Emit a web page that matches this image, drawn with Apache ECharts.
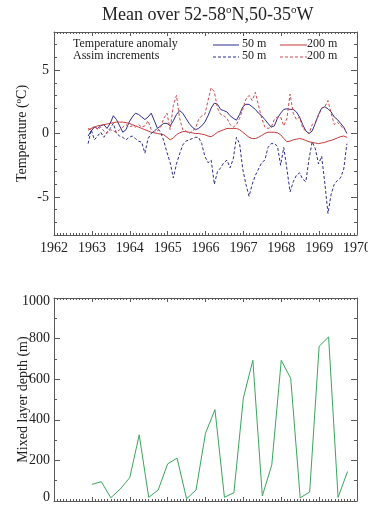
<!DOCTYPE html>
<html>
<head>
<meta charset="utf-8">
<script src="https://cdn.jsdelivr.net/npm/echarts@6/dist/echarts.min.js"></script>
<style>
  html, body { margin: 0; padding: 0; background: #fff; }
  #chart { width: 368px; height: 506px; }
</style>
</head>
<body>
<div id="chart"></div>
<script>
// monthly series start (decimal year), one value per month
var startYear = 1962.9;

// Temperature anomaly 50 m (solid blue)
var t50 = [-0.2, 0.2, 0.5, 0.4, 0.6, 0.7, 0.4, 0.8, 1.4, 1.1, 0.6, 0.1,
  0.3, 0.9, 1.3, 1.6, 1.5, 1.3, 1.1, 1.3, 1.6, 1.0, 0.4, 0.6,
  0.8, 0.8, 0.6, 1.0, 1.5, 1.8, 1.6, 1.2, 0.8, 0.5, 0.3, 0.4,
  0.6, 0.9, 1.4, 2.0, 2.4, 2.3, 1.9, 1.8, 1.7, 1.4, 1.2, 1.05,
  1.5, 2.1, 2.3, 2.3, 2.1, 1.9, 1.6, 1.4, 1.1, 0.8, 0.5, 0.6,
  1.2, 1.6, 1.9, 1.95, 1.9, 1.9, 1.7, 1.3, 0.7, 0.2, 0.0, 0.2,
  0.8, 1.5, 2.0, 2.1, 1.95, 1.7, 1.3, 1.1, 0.8, 0.5, 0.0];

// Temperature anomaly 200 m (solid red)
var t200 = [0.25, 0.4, 0.5, 0.6, 0.65, 0.7, 0.75, 0.8, 0.85, 0.9, 0.9, 0.9,
  0.85, 0.8, 0.7, 0.6, 0.5, 0.4, 0.3, 0.2, 0.1, 0.05, 0.0, -0.05,
  -0.1, -0.3, -0.5, -0.35, -0.1, 0.05, 0.15, 0.15, 0.1, 0.05, 0.0, 0.0,
  -0.05, -0.1, -0.2, -0.25, -0.1, 0.1, 0.2, 0.3, 0.4, 0.4, 0.4, 0.4,
  0.3, 0.1, -0.1, -0.3, -0.4, -0.4, -0.3, -0.15, 0.0, 0.1, 0.1, 0.1,
  0.05, -0.1, -0.4, -0.65, -0.6, -0.5, -0.45, -0.4, -0.45, -0.55, -0.65, -0.7,
  -0.75, -0.8, -0.75, -0.7, -0.6, -0.55, -0.45, -0.35, -0.25, -0.2, -0.3];

// Assim increments 50 m (dashed blue)
var a50 = [-0.8, 0.3, -0.5, -0.2, 0.1, -0.3, 0.1, 0.4, 0.8, 0.0, -0.2, -0.3,
  -0.5, -0.3, -0.2, -0.4, -0.6, -0.7, -1.55, -0.4, 0.0, 0.2, 0.4, 0.1,
  -0.6, -1.5, -2.3, -3.5, -2.4, -1.6, -0.9, -0.6, -0.5, -0.4, -0.3, -0.3,
  -0.8, -1.8, -2.3, -2.1, -4.0, -3.0, -2.7, -2.3, -2.1, -2.7, -2.0, -0.3,
  -0.8, -2.8, -4.0, -4.95, -4.0, -3.3, -2.8, -2.3, -2.1, -1.1, -0.8, -0.8,
  -1.0, -2.5, -1.1, -2.8, -4.6, -3.8, -3.3, -3.1, -3.6, -3.8, -2.0, -0.65,
  -1.2, -2.4, -1.8, -3.9, -6.3, -4.8, -4.0, -3.7, -3.5, -2.8, -0.8];

// Assim increments 200 m (dashed red)
var a200 = [0.4, 0.3, 0.6, 0.3, 0.5, 0.2, 0.0, 0.3, 0.2, 0.1, 0.3, 0.5,
  0.7, 0.5, 0.6, 0.5, 0.7, 0.5, 0.6, 1.0, 0.3, 0.1, 0.2, 0.5,
  1.2, 1.6, 0.3, 2.2, 3.0, 1.2, 0.3, 0.2, 0.0, 0.2, 0.4, 1.1,
  1.4, 1.5, 2.6, 3.6, 3.3, 2.0, 1.5, 1.4, 1.2, 0.7, 0.5, 0.7,
  1.2, 1.9, 2.7, 3.0, 2.6, 3.25, 2.2, 1.2, 0.5, 0.4, 0.5, 1.1,
  1.3, 1.3, 0.6, 1.2, 3.1, 1.6, 1.1, 1.3, 0.4, 0.2, 0.0, 0.7,
  0.9, 1.4, 2.0, 2.1, 2.6, 1.6, 0.7, 0.9, 0.6, 0.4, 0.1];

// Mixed layer depth (quarterly)
var mldYears = [1963.0, 1963.25, 1963.5, 1963.75, 1964.0, 1964.25, 1964.5, 1964.75,
  1965.0, 1965.25, 1965.5, 1965.75, 1966.0, 1966.25, 1966.5, 1966.75,
  1967.0, 1967.25, 1967.5, 1967.75, 1968.0, 1968.25, 1968.5, 1968.75,
  1969.0, 1969.25, 1969.5, 1969.75];
var mldDepth = [82, 95, 16, 59, 115, 326, 18, 54,
  183, 211, 11, 54, 334, 450, 18, 41,
  508, 693, 25, 178, 693, 604, 16, 44,
  762, 808, 18, 145];

var tempMajor = [-5, 0, 5];

function monthly(vals) {
  return vals.map(function (v, i) { return [startYear + i / 12, v]; });
}
function pairs(xs, ys) {
  return xs.map(function (x, i) { return [x, ys[i]]; });
}

var FONT = "'Liberation Serif', 'Times New Roman', serif";
var frame = '#5a5a5a';
var blue = '#2e2e8e';
var red = '#c23a3a';
var green = '#3aa65c';

function xAx(grid, pos, labels) {
  return {
    type: 'value', gridIndex: grid, position: pos,
    min: 1962, max: 1970, interval: 1,
    axisLine: { show: true, onZero: false, lineStyle: { color: frame, width: 1 } },
    axisTick: { show: true, inside: true, length: 4, lineStyle: { color: frame } },
    minorTick: { show: true, splitNumber: 12, length: 2, lineStyle: { color: frame } },
    axisLabel: { show: labels, margin: 6, color: '#222', fontFamily: FONT, fontSize: 14,
      showMinLabel: true, showMaxLabel: true, hideOverlap: false,
      formatter: function (v) { return String(v); } },
    splitLine: { show: false }
  };
}

var chart = echarts.init(document.getElementById('chart'));
chart.setOption({
  backgroundColor: '#fff',
  animation: false,
  title: {
    text: '{a|Mean over 52-58}{s|o}{a|N,50-35}{s|o}{a|W}',
    left: 97, top: 0,
    textStyle: {
      fontWeight: 'normal',
      rich: {
        a: { fontFamily: FONT, fontSize: 18, fontWeight: 'normal', color: '#222', lineHeight: 20 },
        s: { fontFamily: FONT, fontSize: 11, fontWeight: 'normal', color: '#222', verticalAlign: 'top', lineHeight: 20 }
      }
    }
  },
  grid: [
    { left: 54, top: 32, width: 303, height: 203, outerBoundsMode: 'none', containLabel: false },
    { left: 54, top: 298, width: 303, height: 203, outerBoundsMode: 'none', containLabel: false }
  ],
  xAxis: [
    xAx(0, 'bottom', true),
    xAx(0, 'top', false),
    xAx(1, 'bottom', false),
    xAx(1, 'top', false)
  ],
  yAxis: [
    { // top left, unit ticks + labels
      type: 'value', gridIndex: 0, position: 'left', min: -8, max: 8, interval: 1,
      axisLine: { show: true, onZero: false, lineStyle: { color: frame } },
      axisTick: { show: true, inside: true, length: 3, lineStyle: { color: frame } },
      axisLabel: { margin: 5, color: '#222', fontFamily: FONT, fontSize: 14,
        formatter: function (v) { return v % 5 === 0 ? String(v) : ''; } },
      splitLine: { show: false },
      name: '{a|Temperature (}{s|o}{a|C)}', nameLocation: 'middle', nameGap: 24,
      nameMoveOverlap: false,
      nameTextStyle: {
        rich: {
          a: { fontFamily: FONT, fontSize: 14, color: '#222', lineHeight: 16 },
          s: { fontFamily: FONT, fontSize: 9, color: '#222', verticalAlign: 'top', lineHeight: 16 }
        }
      }
    },
    { // top left, major ticks
      type: 'value', gridIndex: 0, position: 'left', min: -8, max: 8,
      axisLine: { show: false },
      axisTick: { show: true, inside: true, length: 6, customValues: tempMajor, lineStyle: { color: frame } },
      axisLabel: { show: false },
      splitLine: { show: false }
    },
    { // top right, unit ticks
      type: 'value', gridIndex: 0, position: 'right', min: -8, max: 8, interval: 1,
      axisLine: { show: true, onZero: false, lineStyle: { color: frame } },
      axisTick: { show: true, inside: true, length: 3, lineStyle: { color: frame } },
      axisLabel: { show: false },
      splitLine: { show: false }
    },
    { // top right, major ticks
      type: 'value', gridIndex: 0, position: 'right', min: -8, max: 8,
      axisLine: { show: false },
      axisTick: { show: true, inside: true, length: 6, customValues: tempMajor, lineStyle: { color: frame } },
      axisLabel: { show: false },
      splitLine: { show: false }
    },
    { // bottom left
      type: 'value', gridIndex: 1, position: 'left', min: 0, max: 1000, interval: 200,
      axisLine: { show: true, onZero: false, lineStyle: { color: frame } },
      axisTick: { show: true, inside: true, length: 6, lineStyle: { color: frame } },
      minorTick: { show: true, splitNumber: 2, length: 3, lineStyle: { color: frame } },
      axisLabel: { margin: 4, color: '#222', fontFamily: FONT, fontSize: 14,
        formatter: function (v) {
          if (v === 0) return '{lo|0}';
          if (v === 1000) return '{hi|1000}';
          return '{n|' + v + '}';
        },
        rich: {
          n: { fontFamily: FONT, fontSize: 14, color: '#222' },
          lo: { fontFamily: FONT, fontSize: 14, color: '#222', padding: [0, 0, 7, 0] },
          hi: { fontFamily: FONT, fontSize: 14, color: '#222', padding: [7, 0, 0, 0] }
        }
      },
      splitLine: { show: false },
      name: 'Mixed layer depth (m)', nameLocation: 'middle', nameGap: 24,
      nameMoveOverlap: false,
      nameTextStyle: { fontFamily: FONT, fontSize: 14, color: '#222' }
    },
    { // bottom right
      type: 'value', gridIndex: 1, position: 'right', min: 0, max: 1000, interval: 200,
      axisLine: { show: true, onZero: false, lineStyle: { color: frame } },
      axisTick: { show: true, inside: true, length: 6, lineStyle: { color: frame } },
      minorTick: { show: true, splitNumber: 2, length: 3, lineStyle: { color: frame } },
      axisLabel: { show: false },
      splitLine: { show: false }
    }
  ],
  series: [
    { name: 'T50', type: 'line', xAxisIndex: 0, yAxisIndex: 0, data: monthly(t50),
      showSymbol: false, lineStyle: { color: blue, width: 1 } },
    { name: 'T200', type: 'line', xAxisIndex: 0, yAxisIndex: 0, data: monthly(t200),
      showSymbol: false, lineStyle: { color: red, width: 1 } },
    { name: 'A50', type: 'line', xAxisIndex: 0, yAxisIndex: 0, data: monthly(a50),
      showSymbol: false, lineStyle: { color: blue, width: 1, type: [3, 2] } },
    { name: 'A200', type: 'line', xAxisIndex: 0, yAxisIndex: 0, data: monthly(a200),
      showSymbol: false, lineStyle: { color: '#cc4a4a', width: 1, type: [3, 2] } },
    { name: 'MLD', type: 'line', xAxisIndex: 2, yAxisIndex: 4, data: pairs(mldYears, mldDepth),
      showSymbol: false, lineStyle: { color: green, width: 1 } }
  ],
  graphic: [
    { type: 'text', left: 73, top: 38, style: { text: 'Temperature anomaly', font: '12px ' + FONT, fill: '#222' } },
    { type: 'text', left: 73, top: 50, style: { text: 'Assim increments', font: '12px ' + FONT, fill: '#222' } },
    { type: 'line', shape: { x1: 213, y1: 45, x2: 239, y2: 45 }, style: { stroke: blue, lineWidth: 1 } },
    { type: 'text', left: 242, top: 38, style: { text: '50 m', font: '12px ' + FONT, fill: '#222' } },
    { type: 'line', shape: { x1: 280, y1: 45, x2: 307, y2: 45 }, style: { stroke: red, lineWidth: 1 } },
    { type: 'text', left: 307, top: 38, style: { text: '200 m', font: '12px ' + FONT, fill: '#222' } },
    { type: 'line', shape: { x1: 213, y1: 57, x2: 239, y2: 57 }, style: { stroke: blue, lineWidth: 1, lineDash: [3, 2] } },
    { type: 'text', left: 242, top: 50, style: { text: '50 m', font: '12px ' + FONT, fill: '#222' } },
    { type: 'line', shape: { x1: 280, y1: 57, x2: 307, y2: 57 }, style: { stroke: '#cc4a4a', lineWidth: 1, lineDash: [3, 2] } },
    { type: 'text', left: 307, top: 50, style: { text: '200 m', font: '12px ' + FONT, fill: '#222' } }
  ]
});
</script>
</body>
</html>
